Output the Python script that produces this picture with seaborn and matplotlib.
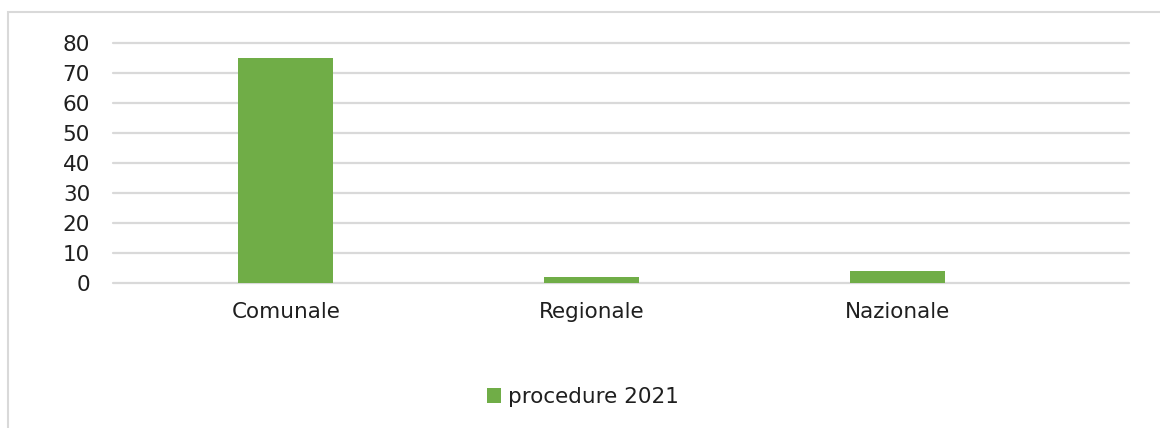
import pandas as pd
import seaborn as sns
import matplotlib.pyplot as plt
from matplotlib.patches import Rectangle

categories = ['Comunale', 'Regionale', 'Nazionale']
procedure_2021 = [75, 2, 4]
yticks = [0, 10, 20, 30, 40, 50, 60, 70, 80]

df = pd.DataFrame({'ambito': categories, 'procedure 2021': procedure_2021})

sns.set_style('white')
plt.rcParams['font.family'] = ['DejaVu Sans']
text_color = '#1f1f1f'
grid_color = '#d9d9d9'
bar_color = '#70ad47'

W, H = 1160, 428
fig = plt.figure(figsize=(W / 100, H / 100), dpi=100)
ax = fig.add_axes([113 / W, 1 - 283 / H, (1129 - 113) / W, (283 - 43) / H])

sns.barplot(data=df, x='ambito', y='procedure 2021', color=bar_color,
            saturation=1, width=0.31, linewidth=0, ax=ax,
            label='procedure 2021', zorder=3)

ax.set_xlim(-0.565, 2.758)
ax.set_ylim(0, 80)
ax.set_yticks(yticks)
ax.set_yticklabels([str(v) for v in yticks])
for y in yticks:
    ax.axhline(y, color=grid_color, lw=1.6, zorder=1, clip_on=False)

ax.set_xlabel('')
ax.set_ylabel('')
for s in ax.spines.values():
    s.set_visible(False)
ax.tick_params(axis='both', length=0, labelsize=15.5, colors=text_color)
ax.tick_params(axis='x', pad=14)
ax.tick_params(axis='y', pad=16.5)

leg = ax.legend(loc='center', bbox_to_anchor=(583 / W, 1 - 397 / H),
                bbox_transform=fig.transFigure, frameon=False, fontsize=15.5,
                handlelength=0.65, handleheight=0.65, handletextpad=0.3)
for t in leg.get_texts():
    t.set_color(text_color)

# chart area border
fig.patches.append(Rectangle((8 / W, -0.1), 1.2, (H - 12) / H + 0.1,
                             transform=fig.transFigure, fill=False,
                             edgecolor=grid_color, lw=1.5))

fig.savefig('out.png', dpi=100, facecolor='white')
